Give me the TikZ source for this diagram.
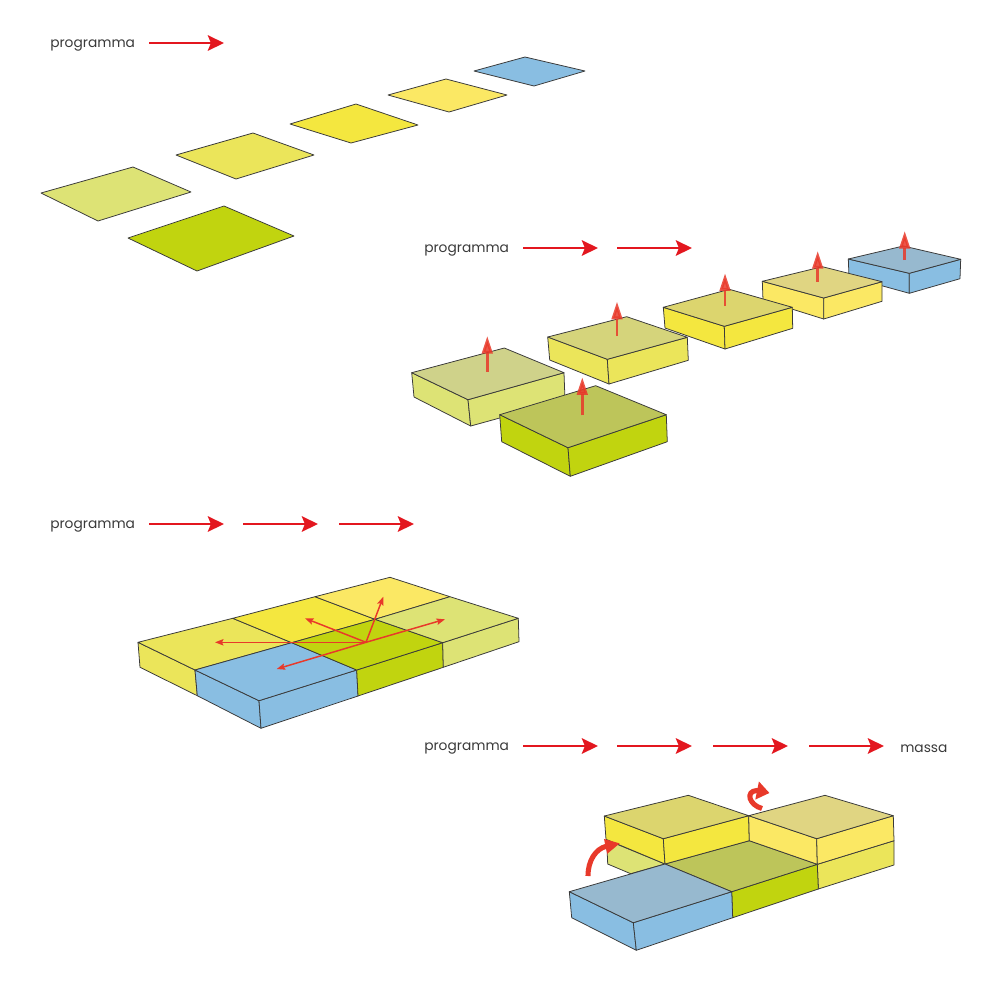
\documentclass[tikz,border=0pt]{standalone}
\usepackage{fontspec}
\setmainfont{Poppins}
\usetikzlibrary{arrows.meta}
\definecolor{cPale}{HTML}{DDE375}
\definecolor{cPaleT}{HTML}{CFD28A}
\definecolor{cOlive}{HTML}{C1D40F}
\definecolor{cOliveT}{HTML}{BDC55A}
\definecolor{cLime}{HTML}{EBE55A}
\definecolor{cLimeT}{HTML}{D5D47B}
\definecolor{cSun}{HTML}{F4E73F}
\definecolor{cSunT}{HTML}{DCD56E}
\definecolor{cSoft}{HTML}{FBE864}
\definecolor{cSoftT}{HTML}{E0D582}
\definecolor{cSky}{HTML}{89BEE2}
\definecolor{cSkyT}{HTML}{97B9CF}
\definecolor{cRed}{HTML}{E3171F}
\definecolor{cOrange}{HTML}{E8392A}
\definecolor{cLine}{HTML}{3A3A3A}
\begin{document}
\begin{tikzpicture}[x=0.25mm,y=-0.25mm,
  face/.style={draw=cLine,line width=0.55pt,line join=round},
  lbl/.style={font=\fontsize{9.8}{12}\selectfont,text=cLine,inner sep=0pt,anchor=west},
  flow/.style={draw=cRed,line width=1.8pt,-{Stealth[length=11.5pt,width=11pt,inset=2.2pt]}},
  lift/.style={draw=cOrange,opacity=.85,line width=2pt,-{Triangle[length=12.5pt,width=7.5pt]}},
  spread/.style={draw=cOrange,line width=1.05pt,-{Stealth[length=6pt,width=4.5pt,inset=1pt]}},
  turn/.style={draw=cOrange,line width=3.6pt}]
\useasboundingbox (0,0) rectangle (1000,1000);
% legend rows
\foreach \n/\x/\y/\xa/\xb in {a1/50/43/149/224,b1/424/248/523/598,c1/50/524/149/224,d1/424/746/523/598}{
  \node[lbl] (lbl\n) at (\x,\y+3) {programma};
  \coordinate (\n s) at (\xa,\y);
  \coordinate (\n e) at (\xb,\y);
  \draw[flow] (\n s) -- (\n e);
}
\foreach \n/\y/\xa/\xb in {b2/248/617/692,c2/524/243/318,c3/524/339/414,d2/746/617/692,d3/746/713/788,d4/746/809/884}{
  \coordinate (\n s) at (\xa,\y);
  \coordinate (\n e) at (\xb,\y);
  \draw[flow] (\n s) -- (\n e);
}
\node[lbl] (lblmassa) at (900,749) {massa};
% flat tiles
\draw[face,fill=cSky] (474,71) -- (525,57) -- (585,71) -- (534,86) -- cycle;
\draw[face,fill=cSoft] (388,95) -- (446,79) -- (507,95) -- (449,112) -- cycle;
\draw[face,fill=cSun] (290,124) -- (356,104) -- (418,125) -- (351,143) -- cycle;
\draw[face,fill=cLime] (176,155) -- (253,133) -- (314,155) -- (236,179) -- cycle;
\draw[face,fill=cPale] (41,193) -- (133,167) -- (191,192) -- (98,221) -- cycle;
\draw[face,fill=cOlive] (128,238) -- (224,206) -- (294,236) -- (197,271) -- cycle;
% raised blocks, back to front
\draw[face,fill=cSky] (848.3,259) -- (909.3,273.3) -- (909.3,293.3) -- (849,276.7) -- cycle;
\draw[face,fill=cSky] (909.3,273.3) -- (960.7,259.3) -- (960,278.7) -- (909.3,293.3) -- cycle;
\draw[face,fill=cSkyT] (848.3,259) -- (903.3,246) -- (960.7,259.3) -- (909.3,273.3) -- cycle;
\draw[lift] (904.7,260) -- (904.7,231);
\draw[face,fill=cSoft] (762.3,281.3) -- (823.7,298) -- (823.7,319) -- (763,300) -- cycle;
\draw[face,fill=cSoft] (823.7,298) -- (882,281.7) -- (882,301.3) -- (823.7,319) -- cycle;
\draw[face,fill=cSoftT] (762.3,281.3) -- (822.3,266.7) -- (882,281.7) -- (823.7,298) -- cycle;
\draw[lift] (817.7,281.7) -- (817.7,251);
\draw[face,fill=cSun] (663.3,307.3) -- (724.3,326.3) -- (725,349) -- (665,328) -- cycle;
\draw[face,fill=cSun] (724.3,326.3) -- (792.3,307.3) -- (792.7,328.3) -- (725,349) -- cycle;
\draw[face,fill=cSunT] (663.3,307.3) -- (729.3,289.3) -- (792.3,307.3) -- (724.3,326.3) -- cycle;
\draw[lift] (725,306) -- (725,273.3);
\draw[face,fill=cLime] (547.7,337) -- (607.3,359.3) -- (609,384) -- (549.7,360) -- cycle;
\draw[face,fill=cLime] (607.3,359.3) -- (687.3,337.3) -- (688.3,360.3) -- (609,384) -- cycle;
\draw[face,fill=cLimeT] (547.7,337) -- (626.7,316.7) -- (687.3,337.3) -- (607.3,359.3) -- cycle;
\draw[lift] (617,336) -- (617,301.7);
\draw[face,fill=cPale] (411.7,372.7) -- (468,399.7) -- (470.7,426) -- (414,397) -- cycle;
\draw[face,fill=cPale] (468,399.7) -- (564,372.7) -- (565,400) -- (470.7,426) -- cycle;
\draw[face,fill=cPaleT] (411.7,372.7) -- (504.3,348) -- (564,372.7) -- (468,399.7) -- cycle;
\draw[lift] (487.3,371.7) -- (487.3,336);
\draw[face,fill=cOlive] (499.7,414.7) -- (568,447.7) -- (570.3,476.3) -- (501.7,441.7) -- cycle;
\draw[face,fill=cOlive] (568,447.7) -- (666.3,414.7) -- (667.3,441.7) -- (570.3,476.3) -- cycle;
\draw[face,fill=cOliveT] (499.7,414.7) -- (595.7,385.7) -- (666.3,414.7) -- (568,447.7) -- cycle;
\draw[lift] (582.3,415.3) -- (582.3,377.3);
% joined slab
\draw[face,fill=cLime] (138,642.3) -- (195,670) -- (197.3,695.7) -- (140,667.3) -- cycle;
\draw[face,fill=cSky] (195,670) -- (259,700.7) -- (261,728.3) -- (197.3,695.7) -- cycle;
\draw[face,fill=cSky] (259,700.7) -- (356.7,670) -- (358,696) -- (261,728.3) -- cycle;
\draw[face,fill=cOlive] (356.7,670) -- (442.7,642.7) -- (443.3,667.3) -- (358,696) -- cycle;
\draw[face,fill=cPale] (442.7,642.7) -- (518.3,618.3) -- (519,641.7) -- (443.3,667.3) -- cycle;
\draw[face,fill=cLime] (138,642.3) -- (232.7,618.3) -- (291.7,642.7) -- (195,670) -- cycle;
\draw[face,fill=cSun] (232.7,618.3) -- (315,596.7) -- (375,619.3) -- (291.7,642.7) -- cycle;
\draw[face,fill=cSoft] (315,596.7) -- (390,577.3) -- (450,596.7) -- (375,619.3) -- cycle;
\draw[face,fill=cSky] (195,670) -- (291.7,642.7) -- (356.7,670) -- (259,700.7) -- cycle;
\draw[face,fill=cOlive] (291.7,642.7) -- (375,619.3) -- (442.7,642.7) -- (356.7,670) -- cycle;
\draw[face,fill=cPale] (375,619.3) -- (450,596.7) -- (518.3,618.3) -- (442.7,642.7) -- cycle;
% arrows out of the slab
\coordinate (hub) at (366,642.3);
\foreach \n/\p in {w/{215,642.3},sw/{276.7,669},nw/{305,618.3},n/{383.3,596.7},ne/{445,619.3}}{
  \coordinate (hub\n) at (\p);
  \draw[spread] (hub) -- (hub\n);
}
% stacked group
\draw[face,fill=cPale] (606.7,840) -- (665,864) -- (630.7,873.7) -- (607.7,864) -- cycle;
\draw[face,fill=cLime] (817.3,864.3) -- (894,840.7) -- (894,865) -- (818.3,889) -- cycle;
\draw[face,fill=cOlive] (731.7,891.7) -- (817.3,864.3) -- (818.3,889) -- (732.7,917.7) -- cycle;
\draw[face,fill=cOliveT] (665,864) -- (749.3,840.7) -- (817.3,864.3) -- (731.7,891.7) -- cycle;
\draw[face,fill=cSun] (604.3,816) -- (663.3,838.7) -- (665,864) -- (606,839.3) -- cycle;
\draw[face,fill=cSun] (663.3,838.7) -- (748.7,815.7) -- (749.3,840.7) -- (665,864) -- cycle;
\draw[face,fill=cSunT] (604.3,816) -- (688.3,795.3) -- (748.7,815.7) -- (663.3,838.7) -- cycle;
\draw[face,fill=cSoft] (748.7,815.7) -- (816.7,838.7) -- (817.3,864.3) -- (749.3,840.7) -- cycle;
\draw[face,fill=cSoft] (816.7,838.7) -- (893.3,815.7) -- (894,840.7) -- (817.3,864.3) -- cycle;
\draw[face,fill=cSoftT] (748.7,815.7) -- (825,795.3) -- (893.3,815.7) -- (816.7,838.7) -- cycle;
\draw[face,fill=cSky] (569.3,891.7) -- (633.3,922.7) -- (636.3,950.3) -- (571.7,917.7) -- cycle;
\draw[face,fill=cSky] (633.3,922.7) -- (731.7,891.7) -- (732.7,917.7) -- (636.3,950.3) -- cycle;
\draw[face,fill=cSkyT] (569.3,891.7) -- (665,864) -- (731.7,891.7) -- (633.3,922.7) -- cycle;
% turning arrows
\coordinate (turnAs) at (588,876);
\coordinate (turnAm) at (606,846.3);
\coordinate (turnAe) at (620,843.3);
\draw[turn,-{Triangle[length=10.5pt,width=10pt]}] (turnAs) .. controls (588,860) and (596,849) .. (turnAm) -- (turnAe);
\coordinate (turnBs) at (762,808.5);
\coordinate (turnBm) at (757,790.5);
\coordinate (turnBe) at (769.5,793);
\draw[turn,-{Triangle[length=9pt,width=12.5pt]}] (turnBs) .. controls (749,805) and (745,791) .. (turnBm) -- (turnBe);
\end{tikzpicture}
\end{document}
